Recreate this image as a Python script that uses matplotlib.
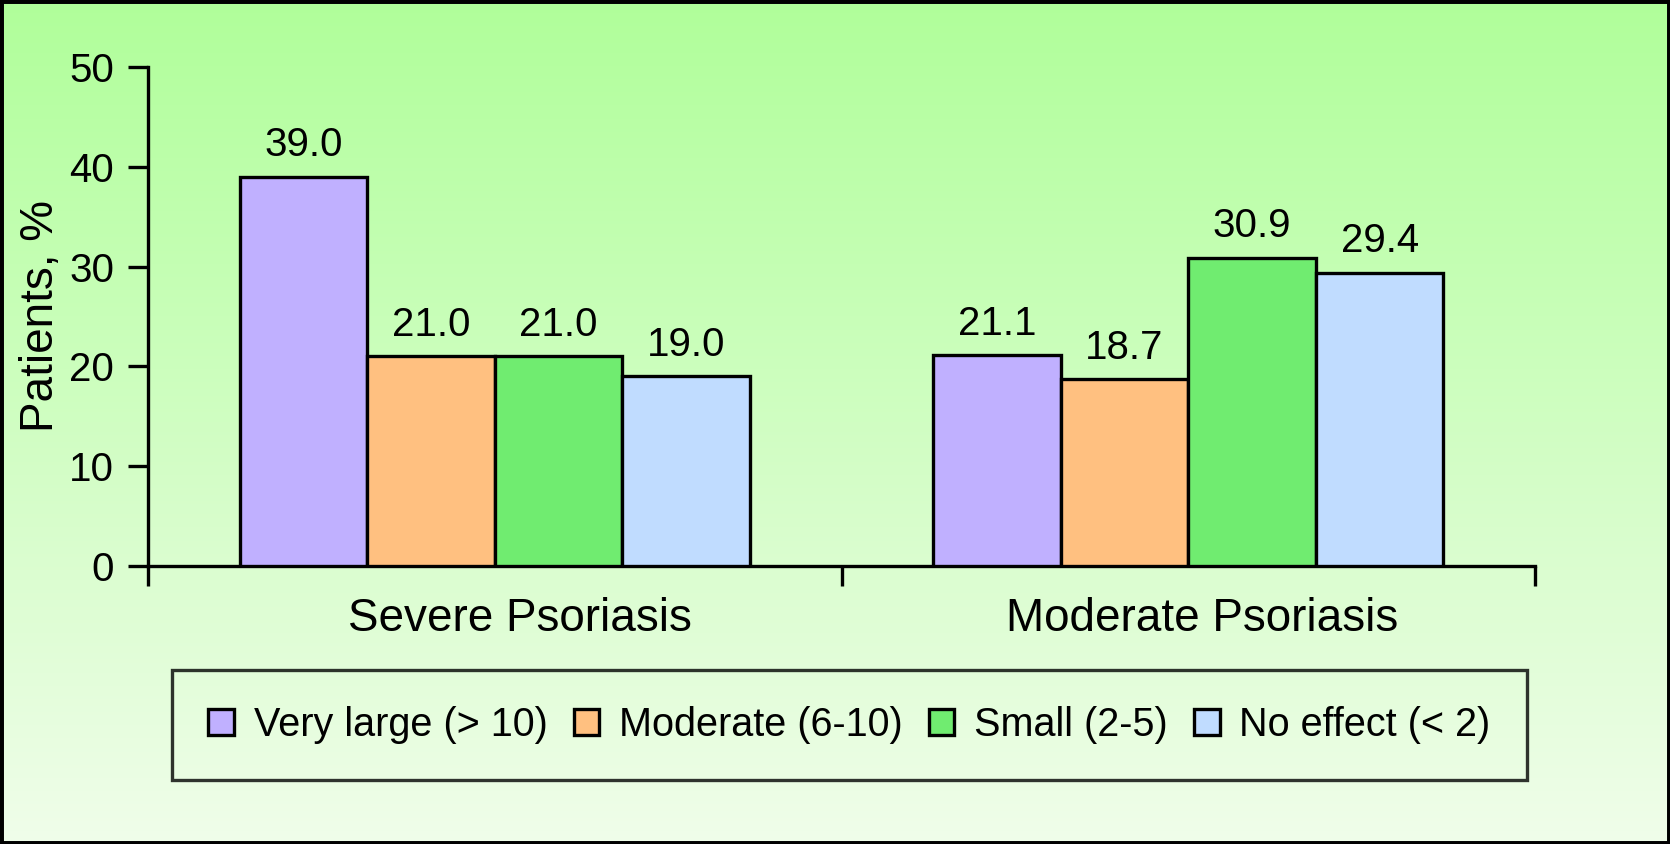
import numpy as np
import matplotlib.pyplot as plt
from matplotlib.patches import Rectangle

plt.rcParams['font.family'] = ['Liberation Sans', 'DejaVu Sans']

groups = ['Severe Psoriasis', 'Moderate Psoriasis']
series = ['Very large (> 10)', 'Moderate (6-10)', 'Small (2-5)', 'No effect (< 2)']
values = [
    [39.0, 21.1],
    [21.0, 18.7],
    [21.0, 30.9],
    [19.0, 29.4],
]
colors = ['#c0b0ff', '#ffc080', '#70ec70', '#c0dcff']
yticks = [0, 10, 20, 30, 40, 50]

fig = plt.figure(figsize=(16.7, 8.44), dpi=100)

# gradient background
bg = fig.add_axes([0, 0, 1, 1], zorder=-10)
top = np.array([176, 255, 154]) / 255
bottom = np.array([240, 253, 234]) / 255
t = np.linspace(0, 1, 256)[:, None]
grad = top[None, :] * (1 - t) + bottom[None, :] * t
bg.imshow(grad[:, None, :], aspect='auto', extent=[0, 1, 0, 1])
bg.set_xlim(0, 1)
bg.set_ylim(0, 1)
bg.axis('off')
bg.add_patch(Rectangle((0, 0), 1, 1, fill=False, edgecolor='black', linewidth=5,
                       transform=bg.transAxes, clip_on=False))

ax = fig.add_axes([148 / 1670, 1 - 566 / 844, (1535 - 148) / 1670, (566 - 67) / 844])
ax.patch.set_alpha(0)

lw = 2.4
width = 0.184
centers = np.array([0.5, 1.5])
for i, (name, vals) in enumerate(zip(series, values)):
    xs = centers + (i - 1.5) * width
    ax.bar(xs, vals, width, color=colors[i], edgecolor='black', linewidth=lw,
           label=name, zorder=3)
    for x, v in zip(xs, vals):
        ax.annotate(f'{v:.1f}', (x, v), xytext=(0, 9), textcoords='offset points',
                    ha='center', va='bottom', fontsize=29)

ax.set_xlim(0, 2)
ax.set_ylim(0, 50)
ax.set_yticks(yticks)
ax.set_xticks([0, 1, 2])
ax.set_xticklabels([])
# group labels sit a little right of the bar groups in the original
ax.set_xticks(centers + [0.036, 0.02], minor=True)
ax.set_xticklabels(groups, minor=True)
ax.tick_params(axis='x', which='minor', length=0, labelsize=33, pad=22)
ax.tick_params(axis='both', which='major', direction='out', length=14.5, width=lw,
               labelsize=29)
ax.tick_params(axis='y', pad=10)
for s in ['top', 'right']:
    ax.spines[s].set_visible(False)
for s in ['left', 'bottom']:
    ax.spines[s].set_linewidth(lw)
ax.set_ylabel('Patients, %', fontsize=33, labelpad=4)

leg = fig.legend(loc='center', bbox_to_anchor=(172 / 1670, 1 - 780 / 844, (1527 - 172) / 1670, 110 / 844),
                 mode='expand', ncol=4, fontsize=28.5, frameon=True, fancybox=False,
                 handlelength=0.65, handleheight=0.65, handletextpad=0.5, borderaxespad=0,
                 borderpad=0.92)
leg.get_frame().set_edgecolor('black')
leg.get_frame().set_linewidth(lw)
leg.get_frame().set_facecolor('none')

fig.savefig('out.png', dpi=100)
